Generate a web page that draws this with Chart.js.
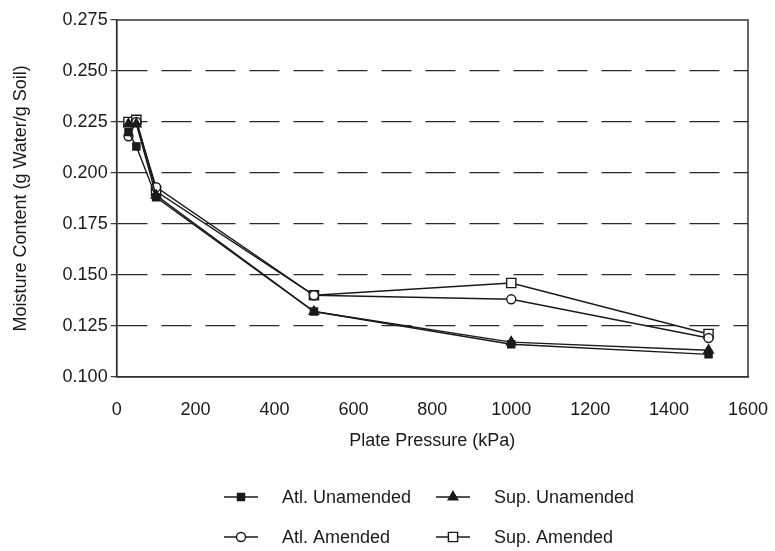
<!DOCTYPE html>
<html>
<head>
<meta charset="utf-8">
<script src="https://cdn.jsdelivr.net/npm/chart.js@4.4.1/dist/chart.umd.min.js"></script>
<style>
  html, body { margin: 0; padding: 0; background: #ffffff; }
  #wrap { position: relative; width: 775px; height: 551px; }
</style>
</head>
<body>
<div id="wrap"><canvas id="c" width="775" height="551"></canvas></div>
<script>
// ---- data ----
const pressures = [30, 50, 100, 500, 1000, 1500];   // Plate pressure, kPa
const atlUnamended = [0.220, 0.213, 0.188, 0.132, 0.116, 0.111];
const supUnamended = [0.224, 0.224, 0.189, 0.132, 0.117, 0.113];
const atlAmended   = [0.218, 0.225, 0.193, 0.140, 0.138, 0.119];
const supAmended   = [0.225, 0.226, 0.191, 0.140, 0.146, 0.121];
const seriesLabels = ['Atl. Unamended', 'Sup. Unamended', 'Atl. Amended', 'Sup. Amended'];
const yTicks = [0.100, 0.125, 0.150, 0.175, 0.200, 0.225, 0.250, 0.275];
const xTicks = [0, 200, 400, 600, 800, 1000, 1200, 1400, 1600];

const FONT = '"Liberation Sans", Arial, Helvetica, sans-serif';
const INK = '#1a1a1a';

function toXY(vals) { return pressures.map((p, i) => ({ x: p, y: vals[i] })); }

const styles = [
  { pointStyle: 'rect', radius: 5, fill: INK },
  { pointStyle: 'triangle', radius: 5.5, fill: INK },
  { pointStyle: 'circle', radius: 4.5, fill: '#ffffff' },
  { pointStyle: 'rect', radius: 6.5, fill: '#ffffff' }
];
const allSeries = [atlUnamended, supUnamended, atlAmended, supAmended];

const datasets = allSeries.map((vals, i) => ({
  label: seriesLabels[i],
  data: toXY(vals),
  borderColor: INK,
  borderWidth: 1.4,
  pointStyle: styles[i].pointStyle,
  pointRadius: styles[i].radius,
  pointBackgroundColor: styles[i].fill,
  pointBorderColor: INK,
  pointBorderWidth: 1.4,
  fill: false,
  tension: 0
}));

// Frame (top/right box edges)
const framePlugin = {
  id: 'frame',
  afterDatasetsDraw(chart) {
    const { ctx, chartArea: a } = chart;
    ctx.save();
    ctx.strokeStyle = '#333';
    ctx.lineWidth = 1.5;
    ctx.strokeRect(a.left, a.top, a.right - a.left, a.bottom - a.top);
    ctx.restore();
  }
};

// 2x2 legend below the chart, built from the datasets
const gridLegend = {
  id: 'gridLegend',
  afterDraw(chart, args, opts) {
    const { ctx } = chart;
    chart.data.datasets.forEach((d, i) => {
      const col = i % 2, row = Math.floor(i / 2);
      const x0 = opts.cols[col], y = opts.rows[row];
      ctx.save();
      ctx.strokeStyle = INK;
      ctx.lineWidth = 1.4;
      ctx.beginPath();
      ctx.moveTo(x0, y);
      ctx.lineTo(x0 + opts.lineLen, y);
      ctx.stroke();
      ctx.fillStyle = d.pointBackgroundColor;
      Chart.helpers.drawPoint(ctx, { pointStyle: d.pointStyle, radius: d.pointRadius, borderWidth: 1.4 },
                              x0 + opts.lineLen / 2, y);
      ctx.font = opts.font;
      ctx.fillStyle = INK;
      ctx.textBaseline = 'middle';
      ctx.fillText(d.label, x0 + opts.lineLen + opts.gap, y + 1);
      ctx.restore();
    });
  }
};

new Chart(document.getElementById('c'), {
  type: 'line',
  data: { datasets },
  plugins: [framePlugin, gridLegend],
  options: {
    responsive: false,
    animation: false,
    devicePixelRatio: 1,
    layout: { padding: { top: 20, right: 27, left: 10, bottom: 99 } },
    plugins: {
      legend: { display: false },
      tooltip: { enabled: false },
      gridLegend: {
        font: '18px ' + FONT,
        cols: [224, 436],
        rows: [497, 537],
        lineLen: 34,
        gap: 24
      }
    },
    scales: {
      x: {
        type: 'linear',
        min: 0, max: 1600,
        afterBuildTicks: (s) => { s.ticks = xTicks.map(v => ({ value: v })); },
        ticks: { color: INK, font: { family: FONT, size: 18 }, padding: 0,
                 callback: (v) => String(v) },
        grid: { display: false, drawTicks: true, tickLength: 22, tickColor: 'rgba(0,0,0,0)' },
        border: { display: true, color: '#333', width: 1.5 },
        title: { display: true, text: 'Plate Pressure (kPa)', color: INK,
                 font: { family: FONT, size: 18 }, padding: { top: 10, bottom: 0 } }
      },
      y: {
        type: 'linear',
        min: 0.100, max: 0.275,
        afterBuildTicks: (s) => { s.ticks = yTicks.map(v => ({ value: v })); },
        ticks: { color: INK, font: { family: FONT, size: 18 }, padding: 3,
                 callback: (v) => v.toFixed(3) },
        grid: {
          drawTicks: true, tickLength: 6, tickColor: '#333', tickWidth: 1.2,
          lineWidth: 1.3,
          color: (c) => {
            const v = c.tick && c.tick.value;
            return (v === undefined || Math.abs(v - 0.100) < 1e-9 || Math.abs(v - 0.275) < 1e-9) ? 'rgba(0,0,0,0)' : '#2a2a2a';
          }
        },
        border: { display: true, color: '#333', width: 1.5, dash: [30, 14] },
        title: { display: true, text: 'Moisture Content (g Water/g Soil)', color: INK,
                 font: { family: FONT, size: 18 }, padding: { top: 0, bottom: 28 } }
      }
    }
  }
});
</script>
</body>
</html>
